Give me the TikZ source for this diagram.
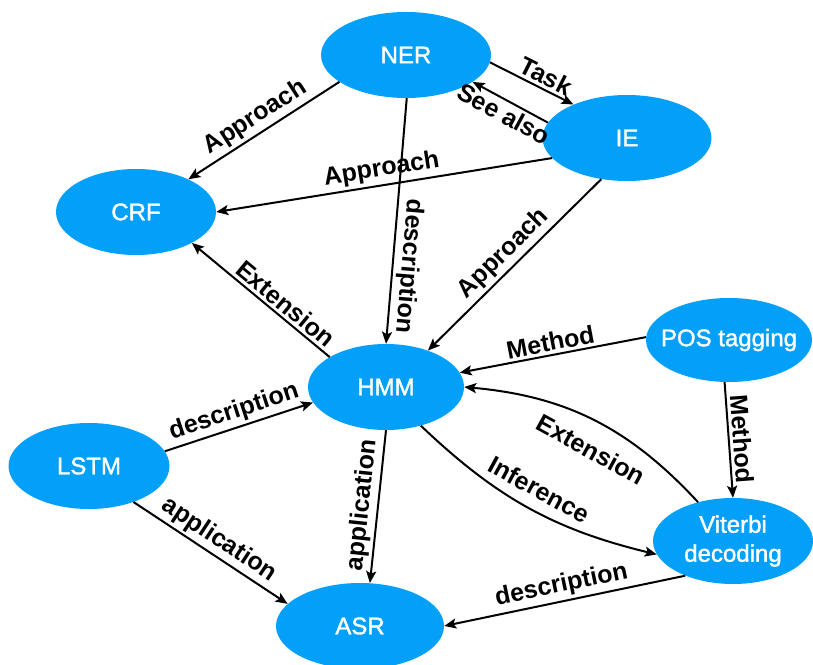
\documentclass[tikz,border=0pt]{standalone}
\usepackage{fontspec}
\setmainfont{Liberation Sans}
\newfontfamily\topicfont[FakeBold=1.5]{Liberation Sans}
\usepackage{tikz}
\usetikzlibrary{shapes.geometric}
\usetikzlibrary{arrows.meta}

\definecolor{topicblue}{RGB}{3,160,250}

\tikzset{
        topic/.style={ellipse, fill=topicblue, inner sep=0pt, minimum width=162pt,
                minimum height=86pt, label={[topictext]center:#1}},
        topictext/.style={text=white, font=\topicfont\fontsize{24}{29}\selectfont, align=center},
        link/.style={line width=2pt, -{Stealth[length=12pt,width=10pt,inset=2.5pt]}},
        lbl/.style={font=\fontsize{25}{29}\selectfont\bfseries, sloped, inner sep=3pt},
}

\begin{document}
\begin{tikzpicture}[x=1pt, y=1pt]
        \useasboundingbox (0,0) rectangle (813,664);
        \clip (0,0) rectangle (813,664);
        \node[topic={NER}, minimum width=170pt] (ner) at (406,609) {};
        \node[topic={IE}, minimum width=169pt] (ie) at (627,526) {};
        \node[topic={CRF}, minimum width=160pt] (crf) at (136,452) {};
        \node[topic={HMM}, minimum width=156pt] (hmm) at (386,277) {};
        \node[topic={POS tagging}, minimum width=166pt, minimum height=84pt] (postag) at (729,324) {};
        \node[topic={Viterbi\\decoding}, minimum width=160pt] (vit) at (733,123) {};
        \node[topic={LSTM}, minimum width=161pt] (lstm) at (89,198) {};
        \node[topic={ASR}, minimum width=168pt] (asr) at (360,38) {};
        \draw[link] (ner.202) -- node[lbl, above]{Approach} (crf.32);
        \draw[link] (ner.-89) -- node[lbl, above, pos=0.68, allow upside down]{description} (hmm.north);
        \draw[link] (ner.-5) -- node[lbl, above, pos=0.6]{Task} (ie.148);
        \draw[link] (ie.169) -- node[lbl, below]{See also} (ner.-22);
        \draw[link] (ie.195) -- node[lbl, above]{Approach} (crf.east);
        \draw[link] (ie.238) -- node[lbl, above]{Approach} (hmm.41);
        \draw[link] (hmm.152) -- node[lbl, above, pos=0.38]{Extension} (crf.-29);
        \draw[link] (postag.178) -- node[lbl, above]{Method} (hmm.11);
        \draw[link] (postag.-96) -- node[lbl, above]{Method} (vit.north);
        \draw[link] (vit.132) to[bend right=21] node[lbl, below=14pt, pos=0.45]{Extension} (hmm.east);
        \draw[link] (hmm.-48) to[bend right=15] node[lbl, above=8pt]{Inference} (vit.190);
        \draw[link] (lstm.11) -- node[lbl, above]{description} (hmm.192);
        \draw[link] (lstm.-39) -- node[lbl, above]{application} (asr.163);
        \draw[link] (hmm.south) -- node[lbl, above]{application} (asr.77);
        \draw[link] (vit.216) -- node[lbl, above]{description} (asr.east);
\end{tikzpicture}
\end{document}
